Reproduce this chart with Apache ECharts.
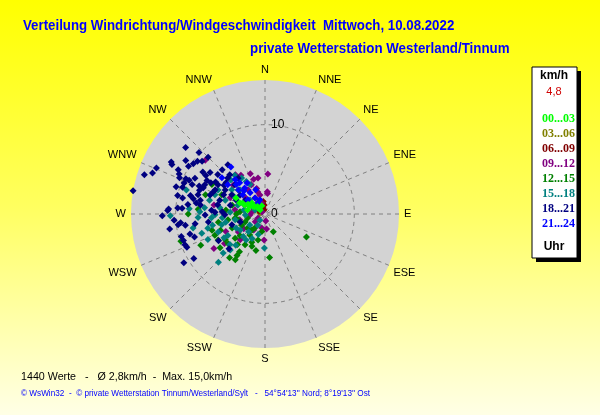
<!DOCTYPE html>
<html>
<head>
<meta charset="utf-8">
<script src="https://cdn.jsdelivr.net/npm/echarts@6/dist/echarts.min.js"></script>
<style>
html,body{margin:0;padding:0;}
body{width:600px;height:415px;background:linear-gradient(to bottom,#ffff00 0%,#ffff60 50%,#ffffe6 100%);}
#c{width:600px;height:415px;}
</style>
</head>
<body>
<div id="c"></div>
<script>
// Wind direction labels (compass)
var directions = ['N','NNE','NE','ENE','E','ESE','SE','SSE','S','SSW','SW','WSW','W','WNW','NW','NNW'];
var legendNames = ['00...03','03...06','06...09','09...12','12...15','15...18','18...21','21...24'];
var legendColors = ['#00ff00','#808000','#800000','#800080','#008000','#008080','#000080','#0000ff'];
// [speed km/h, direction deg]
var s0003 = [[3.1,294],[2.5,294],[1.9,298],[1.4,305],[1.0,311],[0.7,309],[1.9,310],[3.7,299],[2.0,283],[1.0,339],[2.2,300],[1.6,302],[2.8,296],[1.2,315]];
var s0306 = [[0.8,300],[1.2,290],[1.0,315],[0.6,280],[1.5,320]];
var s0609 = [[1.4,352],[1.1,336],[0.7,342],[0.75,297],[0.5,346],[1.3,345],[1.0,355],[1.6,340]];
var s0912 = [[9.0,312],[5.5,323],[5.1,328],[4.8,340],[4.5,4],[4.1,342],[4.1,349],[3.0,342],[2.6,342],[2.5,6],[2.3,7],[2.1,328],[1.3,343],[6.9,236],[0.8,174],[1.7,174],[1.6,193],[2.9,182],[5.6,234],[2.5,294],[1.7,266],[2.9,257],[3.4,278],[1.4,231],[4.3,295],[3.3,325],[2.9,235],[4.8,246],[0.4,304],[4.0,224],[4.8,312],[5.8,280],[3.6,335],[2.2,215],[2.2,345],[1.5,279],[3.6,236],[0.9,240],[2.8,310]];
var s1215 = [[8.6,270],[9.9,252],[8.0,244],[2.2,155],[3.5,205],[5.3,119],[4.9,174],[5.1,214],[5.6,214],[6.1,213],[7.5,274],[5.3,250],[4.2,261],[4.3,231],[2.9,244],[2.9,216],[1.9,216],[3.0,195],[4.1,213],[5.3,237],[6.1,247],[3.8,285],[2.8,275],[5.3,294],[6.8,299],[7.0,288],[2.0,257],[2.0,190],[3.9,202],[4.0,312],[4.6,222],[3.4,262],[5.3,260],[4.0,247],[3.7,229],[2.5,231],[4.4,276],[6.2,253],[6.3,219],[6.3,233],[4.2,194],[3.2,270],[2.4,248],[5.3,231],[2.3,219],[3.1,258],[6.0,241]];
var s1518 = [[9.2,287],[10.6,269],[8.5,274],[7.4,253],[4.2,330],[2.4,198],[3.8,181],[6.4,227],[7.5,224],[3.5,224],[2.7,223],[6.4,284],[6.8,276],[5.6,269],[5.0,256],[4.8,240],[3.4,259],[3.3,237],[4.7,289],[4.6,306],[4.8,327],[3.7,333],[1.2,292],[2.2,267],[2.1,234],[5.9,297],[6.0,258],[7.0,246],[5.2,229],[3.2,288],[3.9,273],[7.5,267],[8.2,259],[0.9,220],[5.4,315],[4.1,300],[7.3,272],[6.0,266],[5.1,278],[4.5,258],[5.6,249],[3.6,244],[2.4,281],[3.9,314],[5.5,322],[2.3,313],[6.6,256],[5.6,224],[3.1,208],[6.0,291],[1.5,213],[5.3,240],[3.6,216],[4.8,223],[4.8,265]];
var s1821 = [[11.6,310],[10.1,313],[9.0,315],[9.2,310],[9.6,308],[9.8,305],[10.7,304],[12.0,299],[11.8,298],[13.2,293],[13.4,290],[14.2,288],[10.9,297],[10.1,302],[10.6,295],[10.4,293],[9.7,294],[9.7,291],[9.3,294],[9.7,288],[10.4,287],[10.0,282],[9.4,281],[15.0,280],[10.8,273],[8.2,282],[11.5,269],[10.9,272],[9.8,274],[9.3,274],[10.2,266],[9.5,264],[9.0,262],[9.8,263],[10.8,261],[7.9,262],[8.7,255],[8.3,252],[9.7,255],[9.6,252],[9.6,249],[9.5,247],[9.4,238],[10.6,239],[6.0,240],[5.6,226],[7.8,290],[7.5,296],[6.5,289],[6.6,303],[5.3,287],[5.2,301],[4.0,284],[4.7,314],[3.5,307],[7.3,278],[6.0,274],[6.7,269],[4.8,273],[5.0,323],[2.7,305],[8.8,297],[8.4,304],[6.9,310],[5.8,314],[3.9,252],[2.9,252],[7.0,300],[8.0,293],[6.2,296],[5.6,305],[8.8,292],[7.8,286],[7.5,300],[6.3,293],[5.4,281],[5.6,309],[4.3,300],[7.8,279],[7.5,293],[7.7,307],[6.9,316],[8.6,284],[5.6,272],[6.4,262],[4.5,269],[3.6,296],[6.9,323],[6.2,302],[5.9,318],[7.4,282],[8.7,277],[7.9,303],[5.1,295]];
var s2124 = [[6.5,324],[6.3,310],[4.5,321],[3.7,322],[2.9,325],[2.1,328],[4.0,312],[2.5,310],[1.5,328],[5.1,319],[3.3,311],[1.7,302],[5.3,308],[2.9,339],[4.0,330],[1.7,340],[3.5,318],[4.6,316]];
var radiusTicks = [0, 10];

var seriesData = [s0003,s0306,s0609,s0912,s1215,s1518,s1821,s2124];
var FONT = '"Liberation Sans",Arial,sans-serif';

var chart = echarts.init(document.getElementById('c'), null, {renderer:'canvas'});
var series = legendNames.map(function(n,i){
  return {
    type:'scatter', name:n, coordinateSystem:'polar',
    symbol:'diamond', symbolSize:7,
    data: seriesData[i],
    itemStyle:{color:legendColors[i], opacity:1},
    z: i===0 ? 4 : 3,
    silent:true, animation:false
  };
});

chart.setOption({
  backgroundColor:'transparent',
  animation:false,
  polar:{center:[265,214], radius:134},
  angleAxis:{
    type:'value', min:0, max:360, interval:22.5, startAngle:90, clockwise:true,
    axisLine:{show:false}, axisTick:{show:false},
    axisLabel:{show:true, margin:5, color:'#000', fontSize:11, fontFamily:FONT,
      formatter:function(v){ return directions[Math.round(v/22.5)%16]; }},
    splitLine:{show:true, lineStyle:{color:'#808080', type:[4,4], width:1}},
    splitArea:{show:false}
  },
  radiusAxis:{
    type:'value', min:0, max:15, interval:10,
    axisLine:{show:false},
    axisTick:{show:false},
    axisLabel:{show:true, color:'#000', fontSize:12, fontFamily:FONT, margin:-6, align:'left',
      formatter:function(v){ return radiusTicks.indexOf(v)>=0 ? String(v) : ''; }},
    splitLine:{show:true, lineStyle:{color:['#808080','#808080','rgba(0,0,0,0)'], type:[4,4], width:1}}
  },
  legend:{
    orient:'vertical', left:537, top:112, itemGap:2, itemHeight:14, itemWidth:0, padding:0,
    icon:'none', selectedMode:false,
    textStyle:{fontSize:12, fontWeight:'bold', fontFamily:'"Liberation Serif","Times New Roman",serif', padding:0},
    data: legendNames.map(function(n,i){ return {name:n, textStyle:{color:legendColors[i]}}; })
  },
  graphic:[
    {type:'circle', shape:{cx:265, cy:214, r:134}, style:{fill:'#d3d3d3'}, z:-10, silent:true},
    {type:'text', x:23, y:25.5, scaleX:0.885, style:{text:'Verteilung Windrichtung/Windgeschwindigkeit  Mittwoch, 10.08.2022', fill:'#0000ff', font:'bold 15px '+FONT, verticalAlign:'middle'}},
    {type:'text', x:250, y:49, scaleX:0.89, style:{text:'private Wetterstation Westerland/Tinnum', fill:'#0000ff', font:'bold 15px '+FONT, verticalAlign:'middle'}},
    {type:'rect', shape:{x:536, y:71, width:45, height:191}, style:{fill:'#000'}, z:-1},
    {type:'rect', shape:{x:532, y:67, width:45, height:191}, style:{fill:'#fff', stroke:'#000', lineWidth:1}, z:0},
    {type:'text', x:554, y:76, style:{text:'km/h', fill:'#000', font:'bold 12px '+FONT, align:'center', verticalAlign:'middle'}, z:1},
    {type:'text', x:554, y:92, style:{text:'4,8', fill:'#d00000', font:'11px '+FONT, align:'center', verticalAlign:'middle'}, z:1},
    {type:'text', x:554, y:247, style:{text:'Uhr', fill:'#000', font:'bold 12px '+FONT, align:'center', verticalAlign:'middle'}, z:1},
    {type:'text', x:21, y:377, style:{text:'1440 Werte   -   Ø 2,8km/h  -  Max. 15,0km/h', fill:'#000', font:'10.7px '+FONT, verticalAlign:'middle'}},
    {type:'text', x:21, y:394, style:{text:"© WsWin32  -  © private Wetterstation Tinnum/Westerland/Sylt   -   54°54'13'' Nord; 8°19'13'' Ost", fill:'#0000ff', font:'8.2px '+FONT, verticalAlign:'middle'}}
  ],
  series: series
});
</script>
</body>
</html>
